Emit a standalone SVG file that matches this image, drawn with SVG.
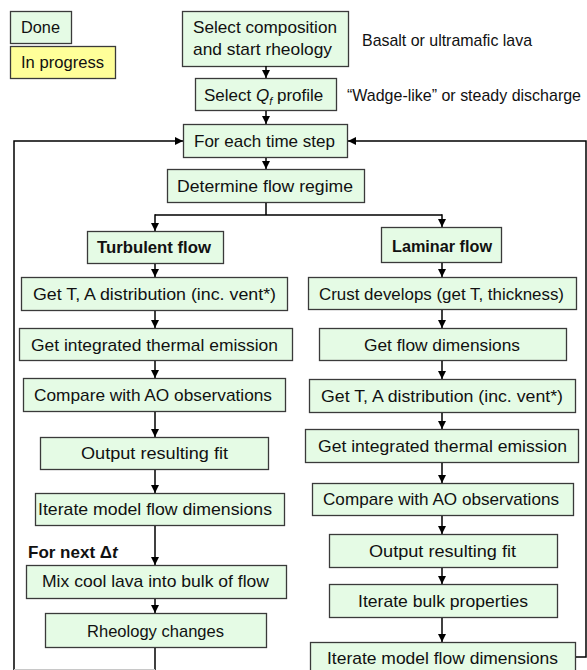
<svg xmlns="http://www.w3.org/2000/svg" width="587" height="670" viewBox="0 0 587 670">
<defs>
<marker id="ah" markerUnits="userSpaceOnUse" markerWidth="9" markerHeight="8" refX="8" refY="4" orient="auto"><path d="M0,0 L8,4 L0,8 z" fill="#000"/></marker>
<style>
.box{fill:#e5fbe5;stroke:#3a3a3a;stroke-width:1.3}
.prog{fill:#ffff99;stroke:#3a3a3a;stroke-width:1.3}
text{font-family:"Liberation Sans",Arial,sans-serif;font-size:17px;fill:#111}
.b{font-weight:bold}
.c{fill:none;stroke:#000;stroke-width:1.5}
.a{marker-end:url(#ah)}
</style>
</defs>
<rect width="587" height="670" fill="#fff"/>
<g id="legend-done"><rect class="box" x="10.5" y="11.5" width="61" height="32"/><text x="21" y="33" textLength="39" lengthAdjust="spacingAndGlyphs">Done</text></g>
<g id="legend-progress"><rect class="prog" x="10.5" y="46.5" width="105" height="32"/><text x="21" y="68" textLength="83" lengthAdjust="spacingAndGlyphs">In progress</text></g>
<g id="select-comp"><rect class="box" x="182.5" y="11.5" width="166" height="55"/><text x="193" y="33" textLength="144" lengthAdjust="spacingAndGlyphs">Select composition</text><text x="193" y="55" textLength="139" lengthAdjust="spacingAndGlyphs">and start rheology</text></g>
<g id="note-basalt"><text x="362" y="46" textLength="170" lengthAdjust="spacingAndGlyphs">Basalt or ultramafic lava</text></g>
<g id="select-qf"><rect class="box" x="195.5" y="78.5" width="141" height="32"/><text x="204" y="101">Select <tspan font-style="italic">Q</tspan><tspan font-style="italic" font-size="11" dy="4">f</tspan><tspan dy="-4"> profile</tspan></text></g>
<g id="note-wadge"><text x="347" y="101" font-size="16" textLength="234" lengthAdjust="spacingAndGlyphs">“Wadge-like” or steady discharge</text></g>
<g id="each-step"><rect class="box" x="183.5" y="124.5" width="164" height="33"/><text x="194" y="147" textLength="141" lengthAdjust="spacingAndGlyphs">For each time step</text></g>
<g id="regime"><rect class="box" x="167.5" y="169.5" width="197" height="33"/><text x="177" y="192" textLength="176" lengthAdjust="spacingAndGlyphs">Determine flow regime</text></g>
<g id="turbulent"><rect class="box" x="87.5" y="231.5" width="136" height="32"/><text class="b" x="97" y="253" textLength="114" lengthAdjust="spacingAndGlyphs">Turbulent flow</text></g>
<g id="laminar"><rect class="box" x="381.5" y="227.5" width="120" height="35"/><text class="b" x="392" y="252" textLength="100" lengthAdjust="spacingAndGlyphs">Laminar flow</text></g>
<g id="t-dist"><rect class="box" x="21.5" y="277.5" width="266" height="33"/><text x="33" y="300" textLength="243" lengthAdjust="spacingAndGlyphs">Get T, A distribution (inc. vent*)</text></g>
<g id="t-emis"><rect class="box" x="19.5" y="328.5" width="273" height="32"/><text x="31" y="351" textLength="247" lengthAdjust="spacingAndGlyphs">Get integrated thermal emission</text></g>
<g id="t-compare"><rect class="box" x="23.5" y="378.5" width="262" height="33"/><text x="34" y="401" textLength="238" lengthAdjust="spacingAndGlyphs">Compare with AO observations</text></g>
<g id="t-output"><rect class="box" x="40.5" y="437.5" width="228" height="32"/><text x="81" y="459" textLength="147" lengthAdjust="spacingAndGlyphs">Output resulting fit</text></g>
<g id="t-iterate"><rect class="box" x="35.5" y="493.5" width="249" height="32"/><text x="38" y="515" textLength="234" lengthAdjust="spacingAndGlyphs">Iterate model flow dimensions</text></g>
<g id="next-dt"><text class="b" x="28" y="558" font-size="16">For next <tspan>Δ</tspan><tspan font-style="italic">t</tspan></text></g>
<g id="t-mix"><rect class="box" x="26.5" y="565.5" width="260" height="33"/><text x="42" y="587" textLength="227" lengthAdjust="spacingAndGlyphs">Mix cool lava into bulk of flow</text></g>
<g id="t-rheo"><rect class="box" x="45.5" y="613.5" width="221" height="34"/><text x="87" y="637" textLength="137" lengthAdjust="spacingAndGlyphs">Rheology changes</text></g>
<g id="l-crust"><rect class="box" x="308.5" y="277.5" width="268" height="32"/><text x="319" y="300" textLength="245" lengthAdjust="spacingAndGlyphs">Crust develops (get T, thickness)</text></g>
<g id="l-dims"><rect class="box" x="319.5" y="328.5" width="247" height="32"/><text x="364" y="351" textLength="156" lengthAdjust="spacingAndGlyphs">Get flow dimensions</text></g>
<g id="l-dist"><rect class="box" x="309.5" y="379.5" width="266" height="33"/><text x="321" y="402" textLength="242" lengthAdjust="spacingAndGlyphs">Get T, A distribution (inc. vent*)</text></g>
<g id="l-emis"><rect class="box" x="305.5" y="429.5" width="273" height="33"/><text x="318" y="452" textLength="249" lengthAdjust="spacingAndGlyphs">Get integrated thermal emission</text></g>
<g id="l-compare"><rect class="box" x="312.5" y="483.5" width="261" height="32"/><text x="323" y="505" textLength="236" lengthAdjust="spacingAndGlyphs">Compare with AO observations</text></g>
<g id="l-output"><rect class="box" x="329.5" y="534.5" width="228" height="33"/><text x="369" y="557" textLength="147" lengthAdjust="spacingAndGlyphs">Output resulting fit</text></g>
<g id="l-bulk"><rect class="box" x="329.5" y="584.5" width="228" height="33"/><text x="358" y="607" textLength="170" lengthAdjust="spacingAndGlyphs">Iterate bulk properties</text></g>
<g id="l-iterate"><rect class="box" x="310.5" y="642.5" width="265" height="40"/><text x="327" y="664" textLength="231" lengthAdjust="spacingAndGlyphs">Iterate model flow dimensions</text></g>
<g id="connectors">
<path class="c a" d="M266,66 V78"/>
<path class="c a" d="M266,111 V124"/>
<path class="c a" d="M266,158 V169"/>
<path class="c" d="M266,203 V215 M155,215 H442"/>
<path class="c a" d="M155,214.3 V231"/>
<path class="c a" d="M442,214.3 V227"/>
<path class="c a" d="M155,264 V277"/>
<path class="c a" d="M155,311 V328"/>
<path class="c a" d="M155,361 V378"/>
<path class="c a" d="M155,412 V437"/>
<path class="c a" d="M155,470 V493"/>
<path class="c a" d="M155,526 V565"/>
<path class="c a" d="M155,599 V613"/>
<path class="c" d="M155,648 V670"/>
<path class="c a" d="M442,263 V277"/>
<path class="c a" d="M442,310 V328"/>
<path class="c a" d="M442,361 V379"/>
<path class="c a" d="M442,413 V429"/>
<path class="c a" d="M442,463 V483"/>
<path class="c a" d="M442,516 V534"/>
<path class="c a" d="M442,568 V584"/>
<path class="c a" d="M442,618 V642"/>
<path class="c a" d="M14,670 V141 H183"/>
<path class="c a" d="M576,657 H586 V141 H348"/>
<path d="M14,669.5 H155" stroke="#c8c8c8" stroke-width="1"/>
</g>
</svg>
